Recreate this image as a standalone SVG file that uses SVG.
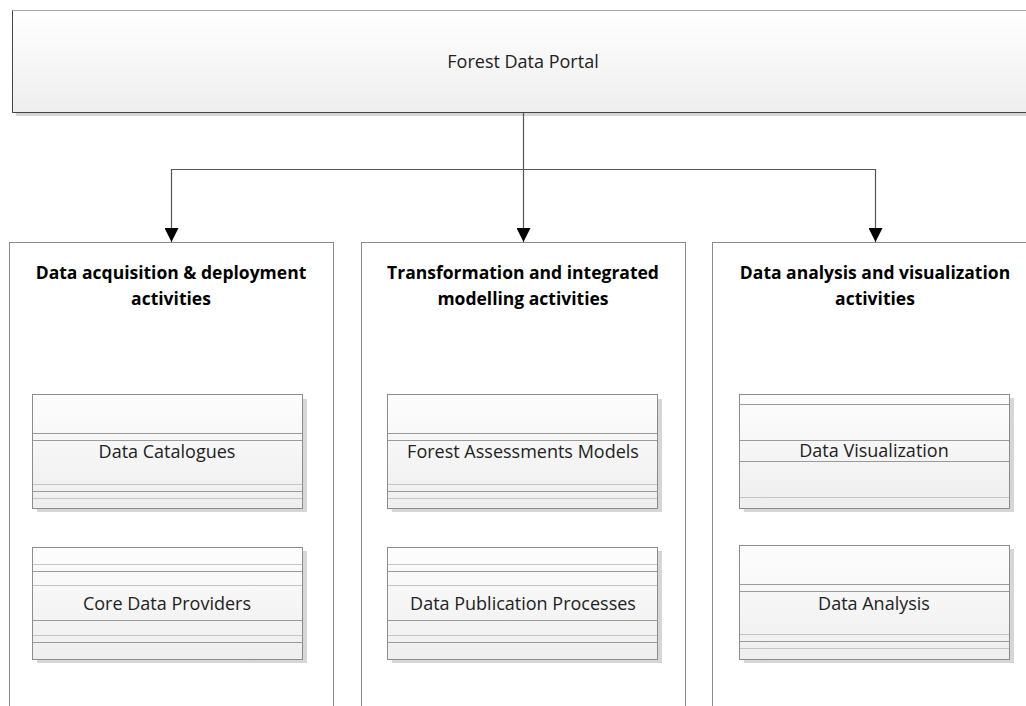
<svg xmlns="http://www.w3.org/2000/svg" width="1026" height="706" viewBox="0 0 1026 706">
  <defs>
    <linearGradient id="boxFill" x1="0" y1="0" x2="0" y2="1">
      <stop offset="0" stop-color="#ffffff"/>
      <stop offset="1" stop-color="#eeeeee"/>
    </linearGradient>
    <linearGradient id="cardFill" x1="0" y1="0" x2="0" y2="1">
      <stop offset="0" stop-color="#fdfdfd"/>
      <stop offset="1" stop-color="#eeeeee"/>
    </linearGradient>
    <marker id="arrow" viewBox="0 0 14 14" refX="14" refY="7" markerWidth="14" markerHeight="14" markerUnits="userSpaceOnUse" orient="auto-start-reverse">
      <path d="M0,0 L14,7 L0,14 Z" fill="#000"/>
    </marker>
  </defs>
  <style>
    .label { font-family: "Open Sans", "Noto Sans", sans-serif; font-size: 18px; fill: #222; text-anchor: middle; }
    .head { font-family: "Open Sans", "Noto Sans", sans-serif; font-size: 17.5px; font-weight: bold; fill: #000; text-anchor: middle; }
    .panel { fill: #fff; stroke: #8a8a8a; stroke-width: 1; }
    .card { fill: url(#cardFill); stroke: #8c8c8c; stroke-width: 1; }
    .shadow { fill: #d6d6d6; }
    .stripe { stroke: #9a9a9a; stroke-width: 1; fill: none; }
    .stripe-light { stroke: #c4c4c4; stroke-width: 1; fill: none; }
    .link { stroke: #555; stroke-width: 1.2; fill: none; }
  </style>

  <rect width="1026" height="706" fill="#fff"/>

  <!-- top-level portal -->
  <g id="portal">
    <rect x="16" y="14" width="1020" height="102" class="shadow"/>
    <rect x="12.5" y="10.5" width="1020" height="102" fill="url(#boxFill)" stroke="#aaa"/>
    <line x1="12.5" y1="112.5" x2="1026" y2="112.5" stroke="#444"/>
    <line x1="12.5" y1="10.5" x2="12.5" y2="112.5" stroke="#444"/>
    <text x="523" y="68" class="label">Forest Data Portal</text>
  </g>

  <!-- connectors -->
  <g id="connectors">
    <line x1="523.5" y1="113" x2="523.5" y2="242" class="link" marker-end="url(#arrow)"/>
    <polyline points="171.5,242 171.5,169.5 875.5,169.5 875.5,242" class="link" marker-start="url(#arrow)" marker-end="url(#arrow)"/>
  </g>

  <!-- activity panels -->
  <g id="panel-acquisition">
    <rect x="9.5" y="242.5" width="324" height="480" class="panel"/>
    <text x="171" y="279" class="head">Data acquisition &amp; deployment</text>
    <text x="171" y="305" class="head">activities</text>
  </g>
  <g id="panel-transformation">
    <rect x="361.5" y="242.5" width="324" height="480" class="panel"/>
    <text x="523" y="279" class="head">Transformation and integrated</text>
    <text x="523" y="305" class="head">modelling activities</text>
  </g>
  <g id="panel-analysis">
    <rect x="712.5" y="242.5" width="330" height="480" class="panel"/>
    <text x="875" y="279" class="head">Data analysis and visualization</text>
    <text x="875" y="305" class="head">activities</text>
  </g>

  <!-- component cards -->
  <g id="card-catalogues">
    <rect x="37" y="399" width="270" height="113" class="shadow"/>
    <rect x="32.5" y="394.5" width="270" height="114" class="card"/>
    <line x1="33" y1="433.5" x2="302" y2="433.5" class="stripe"/>
    <line x1="33" y1="440.5" x2="302" y2="440.5" class="stripe"/>
    <line x1="33" y1="484.5" x2="302" y2="484.5" class="stripe-light"/>
    <line x1="33" y1="491.5" x2="302" y2="491.5" class="stripe"/>
    <line x1="33" y1="498.5" x2="302" y2="498.5" class="stripe-light"/>
    <text x="167" y="458" class="label">Data Catalogues</text>
  </g>
  <g id="card-providers">
    <rect x="37" y="551" width="270" height="112" class="shadow"/>
    <rect x="32.5" y="547.5" width="270" height="112" class="card"/>
    <line x1="33" y1="564.5" x2="302" y2="564.5" class="stripe-light"/>
    <line x1="33" y1="571.5" x2="302" y2="571.5" class="stripe"/>
    <line x1="33" y1="585.5" x2="302" y2="585.5" class="stripe-light"/>
    <line x1="33" y1="620.5" x2="302" y2="620.5" class="stripe"/>
    <line x1="33" y1="635.5" x2="302" y2="635.5" class="stripe-light"/>
    <line x1="33" y1="642.5" x2="302" y2="642.5" class="stripe"/>
    <text x="167" y="610" class="label">Core Data Providers</text>
  </g>
  <g id="card-models">
    <rect x="392" y="399" width="270" height="113" class="shadow"/>
    <rect x="387.5" y="394.5" width="270" height="114" class="card"/>
    <line x1="388" y1="433.5" x2="657" y2="433.5" class="stripe"/>
    <line x1="388" y1="440.5" x2="657" y2="440.5" class="stripe"/>
    <line x1="388" y1="484.5" x2="657" y2="484.5" class="stripe-light"/>
    <line x1="388" y1="491.5" x2="657" y2="491.5" class="stripe"/>
    <line x1="388" y1="498.5" x2="657" y2="498.5" class="stripe-light"/>
    <text x="523" y="458" class="label">Forest Assessments Models</text>
  </g>
  <g id="card-publication">
    <rect x="392" y="551" width="270" height="112" class="shadow"/>
    <rect x="387.5" y="547.5" width="270" height="112" class="card"/>
    <line x1="388" y1="564.5" x2="657" y2="564.5" class="stripe-light"/>
    <line x1="388" y1="571.5" x2="657" y2="571.5" class="stripe"/>
    <line x1="388" y1="585.5" x2="657" y2="585.5" class="stripe-light"/>
    <line x1="388" y1="620.5" x2="657" y2="620.5" class="stripe"/>
    <line x1="388" y1="635.5" x2="657" y2="635.5" class="stripe-light"/>
    <line x1="388" y1="642.5" x2="657" y2="642.5" class="stripe"/>
    <text x="523" y="610" class="label">Data Publication Processes</text>
  </g>
  <g id="card-visualization">
    <rect x="744" y="398" width="270" height="114" class="shadow"/>
    <rect x="739.5" y="394.5" width="270" height="114" class="card"/>
    <line x1="740" y1="404.5" x2="1009" y2="404.5" class="stripe"/>
    <line x1="740" y1="440.5" x2="1009" y2="440.5" class="stripe"/>
    <line x1="740" y1="461.5" x2="1009" y2="461.5" class="stripe"/>
    <line x1="740" y1="497.5" x2="1009" y2="497.5" class="stripe-light"/>
    <text x="874" y="457" class="label">Data Visualization</text>
  </g>
  <g id="card-analysis">
    <rect x="744" y="549" width="270" height="114" class="shadow"/>
    <rect x="739.5" y="545.5" width="270" height="114" class="card"/>
    <line x1="740" y1="584.5" x2="1009" y2="584.5" class="stripe"/>
    <line x1="740" y1="591.5" x2="1009" y2="591.5" class="stripe"/>
    <line x1="740" y1="634.5" x2="1009" y2="634.5" class="stripe-light"/>
    <line x1="740" y1="641.5" x2="1009" y2="641.5" class="stripe"/>
    <line x1="740" y1="648.5" x2="1009" y2="648.5" class="stripe-light"/>
    <text x="874" y="610" class="label">Data Analysis</text>
  </g>
</svg>
